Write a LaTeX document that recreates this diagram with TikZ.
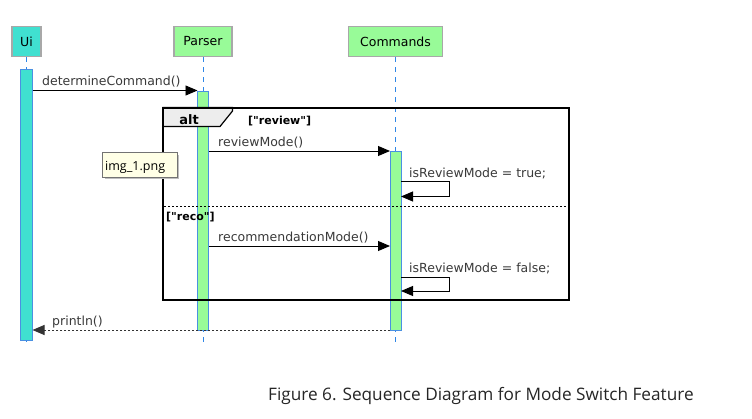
\documentclass[tikz,border=0pt]{standalone}
\usepackage{fontspec}
\setmainfont{DejaVu Sans}
\newfontfamily\capfont{Open Sans}
\usetikzlibrary{arrows.meta}
\definecolor{uicol}{HTML}{40E0D0}
\definecolor{grcol}{HTML}{98FB98}
\definecolor{boxborder}{HTML}{A8A8A8}
\definecolor{lifecol}{HTML}{2F86E6}
\definecolor{actborder}{HTML}{4A90E2}
\definecolor{msgtext}{HTML}{3A3A3A}
\definecolor{tipbg}{HTML}{FFFFE6}
\begin{document}
\begin{tikzpicture}[x=1pt,y=-1pt,
  participant/.style={draw=boxborder,line width=1.6pt,minimum height=30pt,inner sep=0pt,font=\fontsize{12.5}{14}\selectfont},
  lifeline/.style={draw=lifecol,line width=0.9pt,dash pattern=on 5pt off 5pt},
  actbox/.style={draw=actborder,line width=0.8pt},
  msg/.style={draw=black,line width=0.9pt,-{Triangle[length=12pt,width=10pt]}},
  reply/.style={draw=black!80,line width=0.9pt,dash pattern=on 2pt off 2pt,-{Triangle[length=12pt,width=10pt]}},
  msglabel/.style={anchor=base west,inner sep=0pt,text=msgtext,font=\fontsize{12.5}{14}\selectfont},
  guard/.style={anchor=base west,inner sep=0pt,font=\bfseries\fontsize{11}{13}\selectfont},
]
\useasboundingbox (0,0) rectangle (752,418);
\fill[white] (0,0) rectangle (752,418);

% participants
\node[participant,fill=uicol,minimum width=29pt] (ui) at (26.5,41.5) {Ui};
\node[participant,fill=grcol,minimum width=58pt] (parser) at (203,41.5) {Parser};
\node[participant,fill=grcol,minimum width=94pt] (cmds) at (395.5,41.5) {Commands};

% lifeline end points
\coordinate (uiend) at (26.5,346);
\coordinate (pend) at (203,346);
\coordinate (cend) at (395.5,346);
\draw[lifeline] (ui.south) -- (uiend);
\draw[lifeline] (parser.south) -- (pend);
\draw[lifeline] (cmds.south) -- (cend);

% activations
\filldraw[actbox,fill=uicol] (20.5,69) rectangle (32.5,340);
\filldraw[actbox,fill=grcol] (197.5,91) rectangle (208.5,330);
\filldraw[actbox,fill=grcol] (390,151) rectangle (401,330);

% anchor coordinates for messages
\coordinate (m1s) at (32.5,90.5);  \coordinate (m1e) at (197.5,90.5);
\coordinate (m2s) at (208.5,151);  \coordinate (m2e) at (390,151);
\coordinate (m4s) at (208.5,246);  \coordinate (m4e) at (390,246);
\coordinate (s1a) at (401,181.5); \coordinate (s1b) at (401,196.5);
\coordinate (s2a) at (401,277.5); \coordinate (s2b) at (401,291);
\coordinate (r1s) at (390,330);   \coordinate (r1e) at (32.5,330);

% alt frame
\coordinate (altnw) at (163,107.5);
\coordinate (altse) at (569,300);
\filldraw[fill=black!7,draw=black,line width=1.2pt] (163,107.5) -- (232.5,107.5) -- (232.5,111) -- (220,126.5) -- (163,126.5) -- cycle;
\draw[black,line width=2pt] (altnw) rectangle (altse);
\node[anchor=base,inner sep=0pt,font=\bfseries\fontsize{13}{15}\selectfont] (altlbl) at (189,124) {alt};
\node[guard] (g1) at (248,124) {[\textquotedbl review\textquotedbl]};
\coordinate (sepw) at (164,206);
\coordinate (sepe) at (568,206);
\draw[black,line width=0.7pt,dash pattern=on 2pt off 2pt] (sepw) -- (sepe);
\node[guard] (g2) at (166,220) {[\textquotedbl reco\textquotedbl]};

% messages
\draw[msg] (m1s) -- (m1e);
\node[msglabel] (l1) at (42,85.5) {determineCommand()};
\draw[msg] (m2s) -- (m2e);
\node[msglabel] (l2) at (218,146) {reviewMode()};
\draw[msg] (s1a) -- (449,181.5) -- (449,196.5) -- (s1b);
\node[msglabel] (l3) at (409,177.5) {isReviewMode = true;};
\draw[msg] (m4s) -- (m4e);
\node[msglabel] (l4) at (218,241) {recommendationMode()};
\draw[msg] (s2a) -- (449,277.5) -- (449,291) -- (s2b);
\node[msglabel] (l5) at (409,272) {isReviewMode = false;};
\draw[reply] (r1s) -- (r1e);
\node[msglabel] (l6) at (52,325) {println()};

% tooltip
\fill[black!25] (105,155) rectangle (179,179);
\filldraw[fill=tipbg,draw=black!55,line width=0.7pt] (102.5,152.5) rectangle (177,177);
\node[anchor=base west,inner sep=0pt,font=\capfont\fontsize{12.5}{14}\selectfont] (tip) at (105,170) {img\_1.png};

% caption
\node[anchor=base west,inner sep=0pt,text=black!85,font=\capfont\fontsize{17.2}{19}\selectfont] (cap) at (268,400.5) {Figure 6. Sequence Diagram for Mode Switch Feature};
\end{tikzpicture}
\end{document}
